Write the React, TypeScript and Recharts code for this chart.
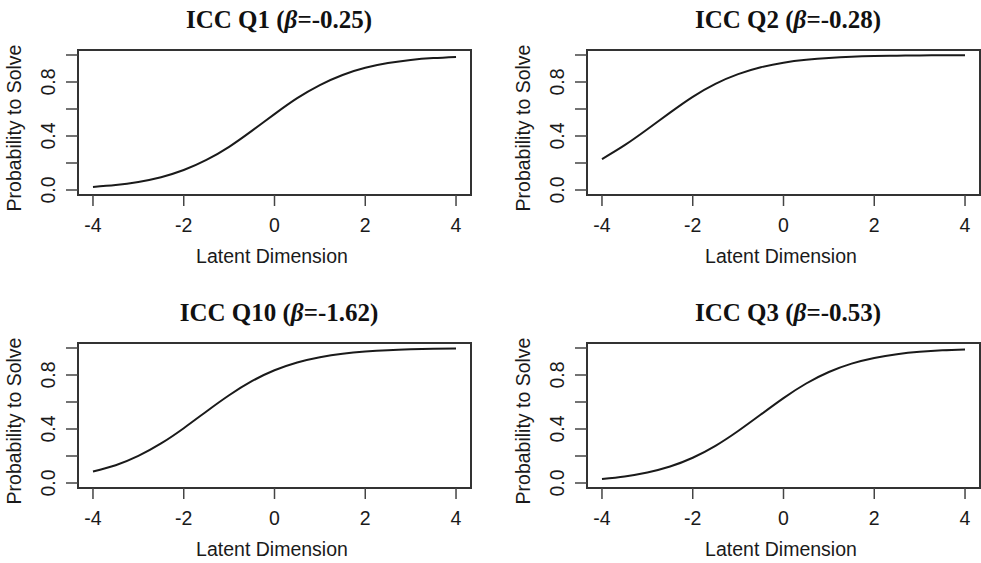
import React from "react"
import { LineChart, Line, XAxis, YAxis, ReferenceArea } from "recharts"

// latent dimension grid, read every 0.5
const LATENT = [-4, -3.5, -3, -2.5, -2, -1.5, -1, -0.5, 0, 0.5, 1, 1.5, 2, 2.5, 3, 3.5, 4]

const Q1 = [0.023, 0.037, 0.06, 0.095, 0.148, 0.223, 0.32, 0.438, 0.562, 0.68, 0.777, 0.852, 0.905, 0.94, 0.963, 0.977, 0.986]
const Q2 = [0.229, 0.332, 0.45, 0.573, 0.69, 0.786, 0.858, 0.909, 0.943, 0.964, 0.978, 0.987, 0.992, 0.995, 0.997, 0.998, 0.999]
const Q10 = [0.085, 0.132, 0.201, 0.293, 0.406, 0.53, 0.65, 0.754, 0.835, 0.893, 0.932, 0.958, 0.974, 0.984, 0.99, 0.994, 0.996]
const Q3 = [0.03, 0.049, 0.078, 0.122, 0.187, 0.275, 0.385, 0.507, 0.629, 0.737, 0.822, 0.884, 0.926, 0.954, 0.972, 0.983, 0.989]

const X_TICKS = [-4, -2, 0, 2, 4]
const Y_TICKS = [0, 0.2, 0.4, 0.6, 0.8, 1]
const Y_LABELS = ["0.0", "", "0.4", "", "0.8", ""]

const X_DOMAIN = [-4.33, 4.33]
const Y_DOMAIN = [-0.037, 1.037]

const panels = [
  { item: "Q1", beta: "-0.25", values: Q1, left: 0, top: 0 },
  { item: "Q2", beta: "-0.28", values: Q2, left: 509, top: 0 },
  { item: "Q10", beta: "-1.62", values: Q10, left: 0, top: 293 },
  { item: "Q3", beta: "-0.53", values: Q3, left: 509, top: 293 },
]

const SANS = "'Liberation Sans', Arial, sans-serif"
const SERIF = "'Liberation Serif', 'Times New Roman', serif"
const INK = "#1a1a1a"

function YTick(props: any) {
  const { x, y, index } = props
  const label = Y_LABELS[index]
  if (!label) return null
  return (
    <text
      x={x}
      y={y}
      transform={`rotate(-90, ${x}, ${y})`}
      textAnchor="middle"
      fontFamily={SANS}
      fontSize={19.5}
      fill={INK}
    >
      {label}
    </text>
  )
}

function Panel({ item, beta, values, left, top }: any) {
  const data = LATENT.map((x, i) => ({ x, p: values[i] }))
  return (
    <div style={{ position: "absolute", left, top, width: 472, height: 280 }}>
      <LineChart width={472} height={280} data={data} margin={{ top: 50, right: 1, bottom: 45, left: 0 }}>
        <XAxis
          dataKey="x"
          type="number"
          domain={X_DOMAIN}
          ticks={X_TICKS}
          allowDataOverflow
          axisLine={false}
          tickSize={11}
          tickMargin={12}
          height={40}
          tickLine={{ stroke: "#444", strokeWidth: 1.5 }}
          tick={{ fontFamily: SANS, fontSize: 19.5, fill: INK }}
        />
        <YAxis
          type="number"
          domain={Y_DOMAIN}
          ticks={Y_TICKS}
          allowDataOverflow
          axisLine={false}
          width={78}
          tickSize={12}
          tickMargin={11}
          tickLine={{ stroke: "#444", strokeWidth: 1.5 }}
          tick={<YTick />}
        />
        <ReferenceArea
          x1={X_DOMAIN[0]}
          x2={X_DOMAIN[1]}
          y1={Y_DOMAIN[0]}
          y2={Y_DOMAIN[1]}
          fill="none"
          fillOpacity={0}
          stroke="#333"
          strokeWidth={2}
          strokeOpacity={1}
        />
        <Line
          dataKey="p"
          type="natural"
          stroke={INK}
          strokeWidth={2}
          dot={false}
          isAnimationActive={false}
        />
      </LineChart>
      <svg width={472} height={280} style={{ position: "absolute", left: 0, top: 0, pointerEvents: "none" }}>
        <text x={279} y={28.3} textAnchor="middle" fontFamily={SERIF} fontWeight="bold" fontSize={25} fill="#111">
          ICC {item} (<tspan fontStyle="italic">β</tspan>={beta})
        </text>
        <text x={272} y={263.3} textAnchor="middle" fontFamily={SANS} fontSize={19.5} fill={INK}>
          Latent Dimension
        </text>
        <text
          x={21}
          y={128}
          transform="rotate(-90, 21, 128)"
          textAnchor="middle"
          fontFamily={SANS}
          fontSize={19.5}
          fill={INK}
        >
          Probability to Solve
        </text>
      </svg>
    </div>
  )
}

export default function App() {
  return (
    <div style={{ position: "absolute", left: 0, top: 0, width: 981, height: 563, background: "#fff", overflow: "hidden" }}>
      {panels.map((p) => (
        <Panel key={p.item} {...p} />
      ))}
    </div>
  )
}
